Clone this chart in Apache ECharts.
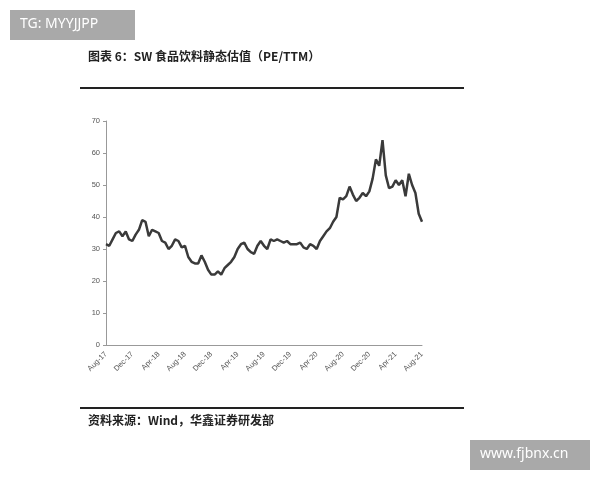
<!DOCTYPE html><html><head><meta charset="utf-8"><script src="https://cdn.jsdelivr.net/npm/echarts@6/dist/echarts.min.js"></script></head><body style="margin:0;background:#fff"><div id="c" style="width:600px;height:480px"></div><script>
const startYear=2017, startMonth=8;
const values=[31.5,31,33,35,35.5,34,35.5,33,
32.5,34.5,36,39,38.5,34,36,35.5,
35,32.5,32,30,31,33,32.5,30.5,
31,27.5,26,25.5,25.5,28,26,23.5,
22,22,23,22,24,25,26,27.5,
30,31.5,32,30,29,28.5,31,32.5,
31,30,33,32.5,33,32.5,32,32.5,
31.5,31.5,31.5,32,30.5,30,31.5,31,
30,32.5,34,35.5,36.5,38.5,40,46,
45.5,46.5,49.5,47,45,46,47.5,46.5,
48,52,58,56,64,53,49,49.5,
51.5,50,51.5,46.5,53.5,50,47.5,41,38.5];
const mNames=['Jan','Feb','Mar','Apr','May','Jun','Jul','Aug','Sep','Oct','Nov','Dec'];
const categories=values.map((v,i)=>{const m=startMonth-1+Math.floor(i/2);const y=startYear+Math.floor(m/12);return mNames[m%12]+'-'+String(y%100)+(i%2?'b':'');});
const yTicks={min:0,max:70,interval:10};
const ch=echarts.init(document.getElementById('c'));
ch.setOption({animation:false,
grid:{left:106,right:178,top:121,bottom:135},
xAxis:{type:'category',data:categories,boundaryGap:false,
 axisLine:{lineStyle:{color:'#999'}},axisTick:{show:false},
 axisLabel:{interval:7,rotate:45,fontSize:7.5,color:'#555',formatter:v=>v.replace('b','')}},
yAxis:{type:'value',min:yTicks.min,max:yTicks.max,interval:yTicks.interval,
 splitLine:{show:false},axisLine:{show:true,lineStyle:{color:'#999'}},axisTick:{show:true,length:3,lineStyle:{color:'#999'}},
 axisLabel:{fontSize:7.5,color:'#555',margin:6}},
series:[{type:'line',data:values,symbol:'none',lineStyle:{color:'#3a3a3a',width:2.5}}],
graphic:[
 {type:'rect',shape:{x:10,y:10,width:125,height:30},style:{fill:'#a9a9a9'}},
 {type:'text',x:20,y:17,style:{text:'TG: MYYJJPP',fill:'#fff',font:'14px "Noto Sans"'}},
 {type:'rect',shape:{x:470,y:440,width:120,height:30},style:{fill:'#a9a9a9'}},
 {type:'text',x:480,y:447,style:{text:'www.fjbnx.cn',fill:'#fff',font:'14px "Noto Sans"'}},
 {type:'text',x:88,y:50,style:{text:'图表 6：SW 食品饮料静态估值（PE/TTM）',fill:'#222',font:'bold 12px "Noto Sans CJK SC"'}},
 {type:'rect',shape:{x:80,y:87,width:384,height:2},style:{fill:'#222'}},
 {type:'rect',shape:{x:80,y:407,width:384,height:2},style:{fill:'#222'}},
 {type:'text',x:88,y:414,style:{text:'资料来源：Wind，华鑫证券研发部',fill:'#222',font:'bold 12px "Noto Sans CJK SC"'}}
]});
</script></body></html>
